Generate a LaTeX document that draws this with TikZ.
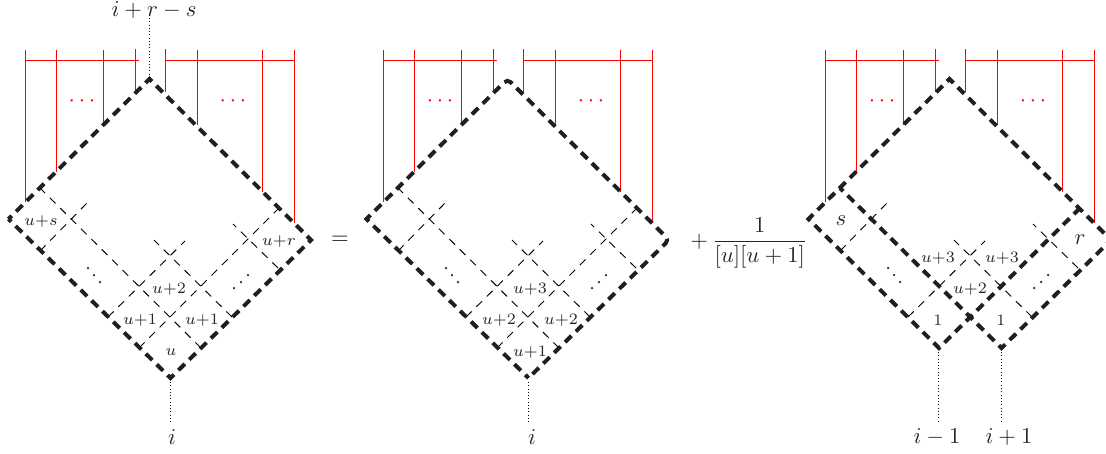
\documentclass[tikz,border=0pt]{standalone}
\newcommand{\redlegs}[1]{%
  \begin{scope}[shift={(#1,0)}]
    \draw[redline] (25,50) -- (25,202);
    \draw[redline] (56,50) -- (56,172);
    \draw[redline] (103,50) -- (103,125);
    \draw[redline] (135,49) -- (135,92);
    \draw[redline] (165,49) -- (165,92);
    \draw[redline] (197,50) -- (197,125);
    \draw[redline] (262,50) -- (262,192);
    \draw[redline] (294,50) -- (294,223);
    \draw[redline] (25,60) -- (139,60);
    \draw[redline] (165,60) -- (294,60);
    \node[reddots] (rl#1) at (82,101) {$\cdots$};
    \node[reddots] (rr#1) at (233,101) {$\cdots$};
    \fill[dotfill] (88,268) circle (1.25) (94,275) circle (1.25) (100,282) circle (1.25);
    \fill[dotfill] (234,288) circle (1.25) (241,282) circle (1.25) (248,275) circle (1.25);
  \end{scope}}
\tikzset{
  x=0.44pt,y=-0.44pt,
  redline/.style={draw=red,line width=0.44pt},
  reddots/.style={text=red,inner sep=0pt},
  dotfill/.style={fill=black!85},
  thickdash/.style={draw=black!88,line width=1.75pt,line join=miter,miter limit=10,
     dash pattern=on 3.96pt off 2.73pt,dash phase=1.98pt},
  thindash/.style={draw=black,line width=0.42pt,dash pattern=on 3.5pt off 2.95pt},
  dotline/.style={draw=black,line width=0.44pt,dash pattern=on 0.44pt off 1pt},
  smalllab/.style={inner sep=0pt,text=black!85},
  biglab/.style={inner sep=0pt,text=black!85},
}
\begin{document}
\begin{tikzpicture}
\useasboundingbox (0,0) rectangle (1106,453);

% ---------- first diagram
\redlegs{0}
\draw[thindash] (40,251) -- (87,203);
\draw[thindash] (108,317) -- (185,241);
\draw[thindash] (139,348) -- (278,209);
\draw[thindash] (201,348) -- (40,188);
\draw[thindash] (232,317) -- (154,240);
\draw[thindash] (278,268) -- (233,224);
\draw[thickdash] (8.5,219) -- (149.5,79) -- (311,240) -- (170.5,378) -- cycle;
\draw[dotline] (149.5,18) -- (149.5,79);
\draw[dotline] (170.5,382) -- (170.5,422);
\node[biglab] (top1) at (154,10) {$i+r-s$};
\node[biglab] (bot1) at (172,437) {$i$};
\node[smalllab] (a1) at (171,352) {$\scriptstyle u$};
\node[smalllab] (a2) at (140,320) {$\scriptstyle u+1$};
\node[smalllab] (a3) at (202,320) {$\scriptstyle u+1$};
\node[smalllab] (a4) at (169,289) {$\scriptstyle u+2$};
\node[smalllab] (a5) at (41,222) {$\scriptstyle u+s$};
\node[smalllab] (a6) at (279,242) {$\scriptstyle u+r$};

\node[biglab] (eq) at (340,240) {$=$};

% ---------- second diagram
\redlegs{358}
\begin{scope}[shift={(358,0)}]
\draw[thindash] (40,251) -- (87,203);
\draw[thindash] (108,317) -- (185,241);
\draw[thindash] (139,348) -- (278,209);
\draw[thindash] (201,348) -- (40,188);
\draw[thindash] (232,317) -- (154,240);
\draw[thindash] (278,268) -- (233,224);
\draw[thickdash] (170.5,378) -- (8.5,219) [rounded corners=2pt] -- (149.5,79) -- (311,240) [sharp corners] -- (170.5,378);
\draw[dotline] (170.5,382) -- (170.5,422);
\node[biglab] (bot2) at (174,437) {$i$};
\node[smalllab] (b1) at (172,352) {$\scriptstyle u+1$};
\node[smalllab] (b2) at (141,320) {$\scriptstyle u+2$};
\node[smalllab] (b3) at (203,320) {$\scriptstyle u+2$};
\node[smalllab] (b4) at (172,289) {$\scriptstyle u+3$};
\end{scope}

\node[biglab] (frac) at (749,243) {$+\,\displaystyle\frac{1}{[u][u+1]}$};

% ---------- third diagram
\redlegs{800}
\draw[thindash] (840,251) -- (887,203);
\draw[thindash] (908,317) -- (985,241);
\draw[thindash] (1032,317) -- (954,240);
\draw[thindash] (1078,268) -- (1033,224);
\draw[thickdash] (840,188) -- (1001.5,348) -- (1111,240) -- (949.5,79) -- (808.5,219) -- (939,348) -- (1080,208);
\draw[dotline] (938.5,352) -- (938.5,422);
\draw[dotline] (1001.5,352) -- (1001.5,422);
\node[biglab] (bot3) at (937,437) {$i-1$};
\node[biglab] (bot4) at (1009,437) {$i+1$};
\node[biglab] (c1) at (841,221) {$s$};
\node[biglab] (c2) at (1080,240) {$r$};
\node[smalllab] (c3) at (938,258) {$\scriptstyle u+3$};
\node[smalllab] (c4) at (1002,258) {$\scriptstyle u+3$};
\node[smalllab] (c5) at (970,289) {$\scriptstyle u+2$};
\node[smalllab] (c6) at (938,320) {$\scriptstyle 1$};
\node[smalllab] (c7) at (1001,320) {$\scriptstyle 1$};
\end{tikzpicture}
\end{document}
